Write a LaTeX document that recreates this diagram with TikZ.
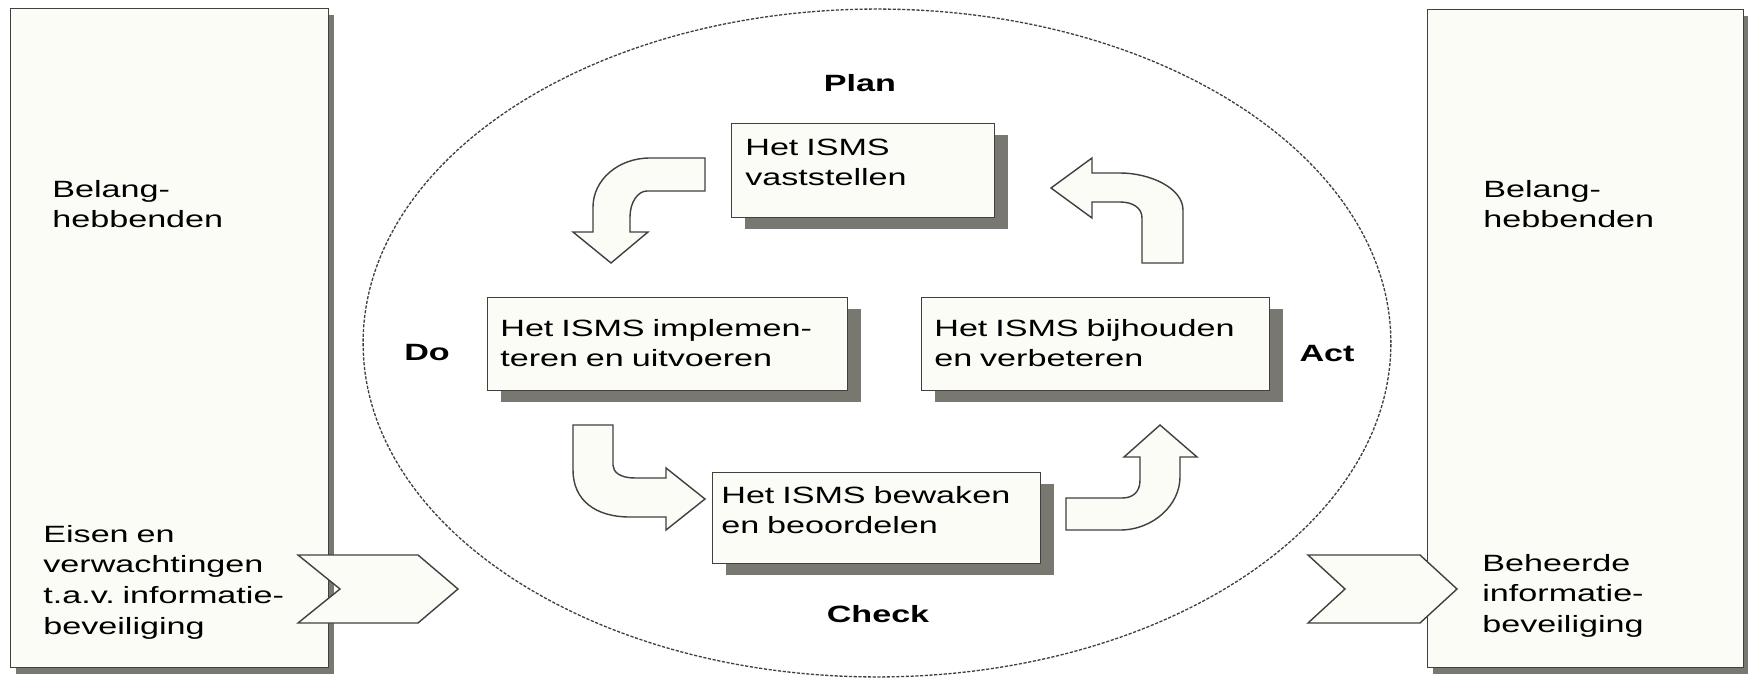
\documentclass[tikz,border=0pt]{standalone}
\usepackage{fontspec}
\setmainfont{Liberation Sans}[FakeStretch=1.45]
\usepackage{tikz}
\usetikzlibrary{shadows}
\usetikzlibrary{positioning}
\frenchspacing
\definecolor{mfill}{rgb}{0.99, 0.99, 0.965}
\definecolor{mline}{rgb}{0.25, 0.25, 0.25}
\definecolor{mshadow}{rgb}{0.47, 0.47, 0.44}
\tikzset{stepbox/.style = {draw = mline, fill = mfill, line width = 0.8pt, inner sep = 0, anchor = north west,
    drop shadow = {shadow xshift = 0.26cm, shadow yshift = -0.22cm, opacity = 1, fill = mshadow}}}
\tikzset{sidebox/.style = {draw = mline, fill = mfill, line width = 0.8pt, inner sep = 0, anchor = north west,
    drop shadow = {shadow xshift = 0.1cm, shadow yshift = -0.12cm, opacity = 1, fill = mshadow}}}
\tikzset{blockarrow/.style = {draw = mline, fill = mfill, line width = 0.8pt, line join = miter}}
\tikzset{txt/.style = {anchor = base west, inner sep = 0, text width = 8cm, align = left,
    font = \fontsize{13.4}{17.5}\selectfont}}
\tikzset{phase/.style = {inner sep = 0, font = \fontsize{13.4}{17.5}\selectfont\bfseries}}

\begin{document}
\begin{tikzpicture}[x = 0.02cm, y = -0.02cm]
      \fill [white] (0, 0) rectangle (1748, 679);
      \useasboundingbox (0, 0) rectangle (1748, 679);

      \draw [mline, line width = 0.75pt, dash pattern = on 1.8pt off 0.9pt] (877, 343) ellipse [x radius = 10.28cm, y radius = 6.68cm];

      % stakeholders left and right
      \node [sidebox, minimum width = 6.36cm, minimum height = 13.18cm] (lbox) at (10, 8) {};
      \node [sidebox, minimum width = 6.32cm, minimum height = 13.16cm] (rbox) at (1427, 9) {};

      \node [txt] (lbel) at (52, 197) {Belang-\\hebbenden};
      \node [txt] (leis) at (43, 542) {Eisen en\\verwachtingen\\t.a.v. informatie-\\beveiliging};
      \node [txt] (rbel) at (1483, 197) {Belang-\\hebbenden};
      \node [txt] (rbeh) at (1482, 571) {Beheerde\\informatie-\\beveiliging};

      % the four steps
      \node [stepbox, minimum width = 5.26cm, minimum height = 1.88cm] (plan) at (731, 123) {};
      \node [stepbox, minimum width = 7.2cm, minimum height = 1.86cm] (do) at (487, 297) {};
      \node [stepbox, minimum width = 6.96cm, minimum height = 1.86cm] (act) at (921, 297) {};
      \node [stepbox, minimum width = 6.56cm, minimum height = 1.82cm] (check) at (712, 472) {};

      \node [txt] (plantxt) at (745, 155) {Het ISMS\\vaststellen};
      \node [txt] (dotxt) at (500, 336) {Het ISMS implemen-\\teren en uitvoeren};
      \node [txt] (acttxt) at (934, 336) {Het ISMS bijhouden\\en verbeteren};
      \node [txt] (checktxt) at (721, 503) {Het ISMS bewaken\\en beoordelen};

      \node [phase] (planlbl) at (860, 83) {Plan};
      \node [phase] (dolbl) at (427, 353) {Do};
      \node [phase] (actlbl) at (1327, 354) {Act};
      \node [phase] (checklbl) at (878, 614) {Check};

      % curved block arrows
      \draw [blockarrow] (705, 158) -- (650, 158) .. controls (618, 158) and (593, 180) .. (593, 207)
        -- (593, 232) -- (573, 232) -- (611, 263) -- (648, 232) -- (630, 232) -- (630, 217)
        .. controls (630, 202) and (638, 191) .. (647, 191) -- (705, 191) -- cycle;
      \draw [blockarrow] (573, 425) -- (613, 425) -- (613, 465) .. controls (613, 472) and (620, 478) .. (635, 478)
        -- (666, 478) -- (666, 468) -- (705, 499) -- (666, 530) -- (666, 517) -- (630, 517)
        .. controls (595, 517) and (573, 500) .. (573, 470) -- cycle;
      \draw [blockarrow] (1066, 530) -- (1120, 530) .. controls (1153, 530) and (1180, 505) .. (1180, 477)
        -- (1180, 457) -- (1197, 457) -- (1160, 425) -- (1124, 457) -- (1140, 457) -- (1140, 480)
        .. controls (1140, 492) and (1133, 498) .. (1122, 498) -- (1066, 498) -- cycle;
      \draw [blockarrow] (1142, 263) -- (1183, 263) -- (1183, 210) .. controls (1183, 188) and (1150, 173) .. (1120, 173)
        -- (1092, 173) -- (1092, 158) -- (1051, 188) -- (1092, 218) -- (1092, 202) -- (1120, 202)
        .. controls (1133, 202) and (1142, 208) .. (1142, 218) -- cycle;

      % in and out
      \draw [blockarrow] (298, 555) -- (418, 555) -- (458, 589) -- (418, 623) -- (298, 623) -- (340, 589) -- cycle;
      \draw [blockarrow] (1308, 555) -- (1420, 555) -- (1457, 589) -- (1420, 623) -- (1308, 623) -- (1345, 589) -- cycle;
    \end{tikzpicture}
\end{document}
